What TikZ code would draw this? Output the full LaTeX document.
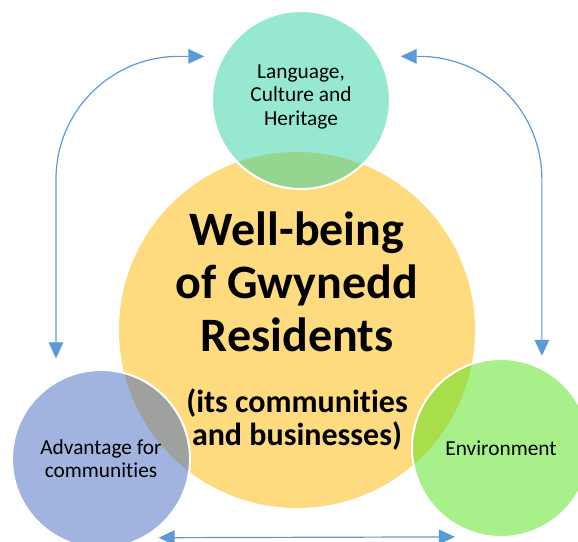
\documentclass[tikz,border=0pt]{standalone}
\usepackage{fontspec}
\setmainfont{Carlito}[Ligatures=NoCommon]
\usepackage{tikz}
\usetikzlibrary{arrows.meta}

\definecolor{mainyellow}{RGB}{255,219,128}
\definecolor{aqua}{RGB}{47,209,161}
\definecolor{steel}{RGB}{65,105,191}
\definecolor{grass}{RGB}{81,225,21}
\definecolor{linkblue}{RGB}{91,155,213}

\begin{document}
\begin{tikzpicture}[x=0.75pt, y=-0.75pt,
        part/.style={circle, draw=white, line width=1.5pt, fill opacity=0.5, text opacity=1,
            minimum size=133.5pt, inner sep=0pt, align=center, font=\fontsize{16}{17.5}\selectfont},
        link/.style={draw=linkblue, line width=0.9pt, {Triangle[length=12pt,width=11pt]}-{Triangle[length=12pt,width=11pt]}}]
        \useasboundingbox (0,0) rectangle (578,542);
        \node[circle, fill=mainyellow, minimum size=267pt, inner sep=0pt] (wellbeing) at (297,330) {};
        \foreach \line [count=\k] in {Well-being, of Gwynedd, Residents}
            \node[anchor=base, font=\fontsize{36}{40}\selectfont\bfseries] (title\k) at (297,192+53*\k) {\line};
        \node[anchor=base, font=\fontsize{24}{25}\selectfont\bfseries] (sub1) at (297,412) {(its communities};
        \node[anchor=base, font=\fontsize{24}{25}\selectfont\bfseries] (sub2) at (297,445) {and businesses)};
        \node[part, fill=aqua, text depth=7.5pt] (lang) at (301,100) {Language,\\Culture and\\Heritage};
        \node[part, fill=steel] (adv) at (101,459) {Advantage for\\communities};
        \node[part, fill=grass] (env) at (501,448) {Environment};
        \draw[link, rounded corners=92pt] ([yshift=17pt]adv.120) |- ([xshift=-13.5pt]lang.151);
        \draw[link, rounded corners=92pt] ([yshift=9pt]env.63) |- ([xshift=15.75pt]lang.29);
        \draw[link] ([xshift=10.5pt]adv.-61) -- ([xshift=-24pt]env.-99);
    \end{tikzpicture}
\end{document}
